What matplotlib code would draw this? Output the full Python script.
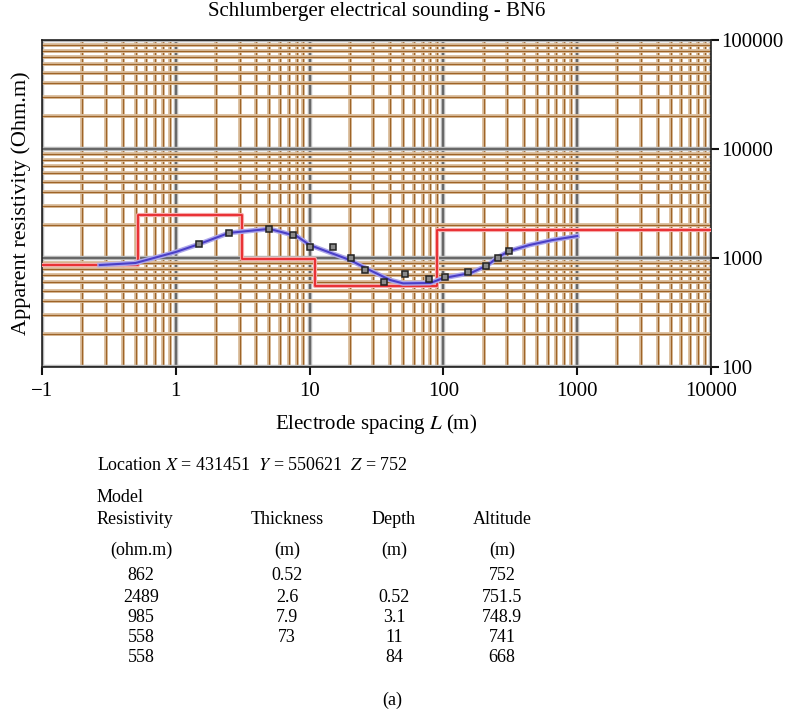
import matplotlib
matplotlib.use("Agg")
import matplotlib.pyplot as plt
import matplotlib.patheffects as pe
import numpy as np
from matplotlib.ticker import LogLocator, NullFormatter

plt.rcParams['font.family'] = ['Liberation Serif', 'DejaVu Serif']
plt.rcParams['mathtext.fontset'] = 'stix'

# field measurements (electrode spacing m, apparent resistivity ohm.m)
obs_spacing = [1.5, 2.5, 5.0, 7.5, 10, 15, 20.5, 26, 36, 52, 78, 102, 153, 209, 255, 310]
obs_rho = [1345, 1700, 1856, 1635, 1253, 1253, 1000, 780, 600, 710, 635, 674, 740, 838, 1000, 1165]

# fitted response curve
fit_spacing = [0.27, 0.5, 1, 1.5, 2.5, 5, 8, 10, 20, 30, 40, 50, 80, 100, 160, 215, 250, 310, 440, 650, 1000]
fit_rho = [862, 900, 1135, 1345, 1700, 1850, 1590, 1316, 958, 745, 628, 585, 590, 655, 728, 860, 1000, 1160, 1316, 1460, 1590]

# layered model (layer tops in m, resistivity drawn per layer)
layer_top = [0.1, 0.52, 3.1, 11, 90]
layer_rho = [862, 2489, 985, 558, 1800]
x_end = 10000

x_ticks = [0.1, 1, 10, 100, 1000, 10000]
x_labels = ['\u22121', '1', '10', '100', '1000', '10000']
y_ticks = [100, 1000, 10000, 100000]
y_labels = ['100', '1000', '10000', '100000']

# table under the chart
col_head = ['Thickness', 'Depth', 'Altitude']
col_resist = ['862', '2489', '985', '558', '558']
col_thick = ['0.52', '2.6', '7.9', '73', '']
col_depth = ['', '0.52', '3.1', '11', '84']
col_alt = ['752', '751.5', '748.9', '741', '668']

fig = plt.figure(figsize=(7.85, 7.1), dpi=100)
W, H = 785, 710
ax = fig.add_axes([42 / W, 1 - 367 / H, (711 - 42) / W, (367 - 40) / H])
ax.set_xscale('log')
ax.set_yscale('log')
ax.set_xlim(0.1, 10000)
ax.set_ylim(100, 100000)

ax.xaxis.set_minor_locator(LogLocator(base=10, subs=np.arange(2, 10)))
ax.yaxis.set_minor_locator(LogLocator(base=10, subs=np.arange(2, 10)))
ax.xaxis.set_minor_formatter(NullFormatter())
ax.yaxis.set_minor_formatter(NullFormatter())

ax.grid(which='minor', color='#9e6428', lw=0.9,
        path_effects=[pe.Stroke(linewidth=2.8, foreground='#dcc0a0'), pe.Normal()])
ax.grid(which='major', color='#505050', lw=1.1,
        path_effects=[pe.Stroke(linewidth=3.2, foreground='#b8b8b8'), pe.Normal()])
ax.set_axisbelow(True)

# model steps
xs = layer_top + [x_end]
ax.step(xs, layer_rho + [layer_rho[-1]], where='post', color='#e8262a', lw=1.3,
        path_effects=[pe.Stroke(linewidth=3, foreground='#f6a8a8'), pe.Normal()], zorder=3)

# response curve and measurements
ax.plot(fit_spacing, fit_rho, color='#4a3fc8', lw=1.5,
        path_effects=[pe.Stroke(linewidth=3.5, foreground='#aea8ea'), pe.Normal()], zorder=4)
ax.plot(obs_spacing, obs_rho, 's', ms=4.2, mfc='#8a8a8a', mec='#222222', mew=1.1, zorder=5)

ax.set_xticks(x_ticks)
ax.set_xticklabels(x_labels)
ax.set_yticks(y_ticks)
ax.set_yticklabels(y_labels)
ax.yaxis.tick_right()
ax.tick_params(which='major', direction='out', length=6, width=1.5, labelsize=15, color='#111111')
ax.tick_params(which='minor', length=0)
ax.tick_params(axis='x', pad=5)
ax.tick_params(axis='y', pad=1)
for s in ax.spines.values():
    s.set_color('#222222')
    s.set_linewidth(1.2)

ax.set_title('Schlumberger electrical sounding - BN6', fontsize=15, pad=17)
ax.set_xlabel('Electrode spacing $\\it{L}$ (m)', fontsize=15, labelpad=8)
ax.set_ylabel('Apparent resistivity (Ohm.m)', fontsize=16, labelpad=8)

fs = 13
fig.text(97 / W, 1 - 466 / H, 'Location $\\it{X}$ = 431451  $\\it{Y}$ = 550621  $\\it{Z}$ = 752',
         fontsize=fs, va='center', ha='left')
fig.text(97 / W, 1 - 497 / H, 'Model', fontsize=fs, va='center', ha='left')
fig.text(97 / W, 1 - 519 / H, 'Resistivity', fontsize=fs, va='center', ha='left')
col_x = [287, 394, 502]
for cx, head in zip(col_x, col_head):
    fig.text(cx / W, 1 - 519 / H, head, fontsize=fs, va='center', ha='center')
    fig.text(cx / W, 1 - 550 / H, '(m)', fontsize=fs, va='center', ha='center')
fig.text(141 / W, 1 - 550 / H, '(ohm.m)', fontsize=fs, va='center', ha='center')

row_y = [576, 597, 617, 638, 658]
for i, ry in enumerate(row_y):
    for cx, col in zip([141] + col_x, [col_resist, col_thick, col_depth, col_alt]):
        fig.text(cx / W, 1 - ry / H, col[i], fontsize=fs, va='center', ha='center')

fig.text(392 / W, 1 - 700 / H, '(a)', fontsize=fs, va='center', ha='center')

fig.savefig('out.png', dpi=100)
